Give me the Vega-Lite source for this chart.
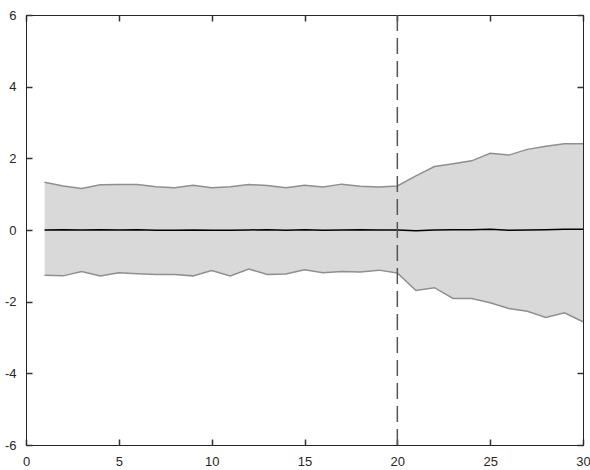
{
  "$schema": "https://vega.github.io/schema/vega-lite/v6.json",
  "autosize": "none",
  "width": 557,
  "height": 430,
  "padding": {"left": 26, "top": 15, "right": 7, "bottom": 25},
  "background": "white",
  "config": {
    "view": {"stroke": "#262626", "strokeWidth": 1},
    "axis": {"grid": false, "labelFont": "Liberation Sans", "labelFontSize": 13, "labelColor": "#262626", "domainColor": "#262626", "title": null, "labelExpr": "replace(datum.label, '\u2212', '-')"}
  },
  "data": {"values": [
    {"x": 1, "lo": -1.26, "hi": 1.33, "m": 0.0},
    {"x": 2, "lo": -1.28, "hi": 1.23, "m": 0.01},
    {"x": 3, "lo": -1.16, "hi": 1.16, "m": 0.0},
    {"x": 4, "lo": -1.28, "hi": 1.26, "m": 0.01},
    {"x": 5, "lo": -1.19, "hi": 1.27, "m": 0.0},
    {"x": 6, "lo": -1.22, "hi": 1.27, "m": 0.01},
    {"x": 7, "lo": -1.24, "hi": 1.21, "m": -0.01},
    {"x": 8, "lo": -1.24, "hi": 1.18, "m": -0.01},
    {"x": 9, "lo": -1.28, "hi": 1.25, "m": 0.0},
    {"x": 10, "lo": -1.13, "hi": 1.18, "m": -0.01},
    {"x": 11, "lo": -1.28, "hi": 1.21, "m": -0.01},
    {"x": 12, "lo": -1.09, "hi": 1.27, "m": 0.0},
    {"x": 13, "lo": -1.24, "hi": 1.24, "m": 0.01},
    {"x": 14, "lo": -1.23, "hi": 1.18, "m": -0.01},
    {"x": 15, "lo": -1.11, "hi": 1.25, "m": 0.01},
    {"x": 16, "lo": -1.19, "hi": 1.2, "m": -0.01},
    {"x": 17, "lo": -1.16, "hi": 1.28, "m": 0.0},
    {"x": 18, "lo": -1.17, "hi": 1.22, "m": 0.01},
    {"x": 19, "lo": -1.12, "hi": 1.2, "m": 0.0},
    {"x": 20, "lo": -1.2, "hi": 1.23, "m": 0.0},
    {"x": 21, "lo": -1.69, "hi": 1.51, "m": -0.02},
    {"x": 22, "lo": -1.61, "hi": 1.77, "m": 0.0},
    {"x": 23, "lo": -1.91, "hi": 1.85, "m": 0.01},
    {"x": 24, "lo": -1.91, "hi": 1.93, "m": 0.01},
    {"x": 25, "lo": -2.03, "hi": 2.14, "m": 0.02},
    {"x": 26, "lo": -2.19, "hi": 2.09, "m": -0.01},
    {"x": 27, "lo": -2.27, "hi": 2.25, "m": 0.0},
    {"x": 28, "lo": -2.44, "hi": 2.34, "m": 0.01},
    {"x": 29, "lo": -2.31, "hi": 2.41, "m": 0.02},
    {"x": 30, "lo": -2.56, "hi": 2.41, "m": 0.02}
  ]},
  "resolve": {"axis": {"x": "independent", "y": "independent"}},
  "layer": [
    {
      "mark": {"type": "area", "color": "#d9d9d9", "opacity": 1},
      "encoding": {
        "x": {"field": "x", "type": "quantitative", "scale": {"domain": [0, 30], "nice": false},
          "axis": {"orient": "bottom", "values": [0, 5, 10, 15, 20, 25, 30], "tickSize": -6, "tickColor": "#333333", "tickWidth": 1.5, "labelPadding": 16, "labelFlush": false}},
        "y": {"field": "lo", "type": "quantitative", "scale": {"domain": [-6, 6], "nice": false, "zero": false},
          "axis": {"orient": "left", "values": [-6, -4, -2, 0, 2, 4, 6], "tickSize": -6, "tickColor": "#333333", "tickWidth": 1.5, "labelPadding": 16}},
        "y2": {"field": "hi"}
      }
    },
    {
      "mark": {"type": "line", "color": "#8f8f8f", "strokeWidth": 1.5},
      "encoding": {
        "x": {"field": "x", "type": "quantitative", "scale": {"domain": [0, 30], "nice": false}, "axis": null},
        "y": {"field": "hi", "type": "quantitative", "scale": {"domain": [-6, 6], "nice": false, "zero": false}, "axis": null}
      }
    },
    {
      "mark": {"type": "line", "color": "#8f8f8f", "strokeWidth": 1.5},
      "encoding": {
        "x": {"field": "x", "type": "quantitative", "scale": {"domain": [0, 30], "nice": false}, "axis": null},
        "y": {"field": "lo", "type": "quantitative", "scale": {"domain": [-6, 6], "nice": false, "zero": false}, "axis": null}
      }
    },
    {
      "mark": {"type": "line", "color": "#000000", "strokeWidth": 1.5},
      "encoding": {
        "x": {"field": "x", "type": "quantitative", "scale": {"domain": [0, 30], "nice": false},
          "axis": {"orient": "top", "values": [0, 5, 10, 15, 20, 25, 30], "tickSize": -6, "tickColor": "#333333", "tickWidth": 1.5, "labels": false}},
        "y": {"field": "m", "type": "quantitative", "scale": {"domain": [-6, 6], "nice": false, "zero": false},
          "axis": {"orient": "right", "values": [-6, -4, -2, 0, 2, 4, 6], "tickSize": -6, "tickColor": "#333333", "tickWidth": 1.5, "labels": false}}
      }
    },
    {
      "data": {"values": [{"v": 20}]},
      "mark": {"type": "rule", "color": "#555555", "strokeWidth": 1.5, "strokeDash": [16, 7]},
      "encoding": {
        "x": {"field": "v", "type": "quantitative", "scale": {"domain": [0, 30], "nice": false}, "axis": null}
      }
    }
  ]
}
